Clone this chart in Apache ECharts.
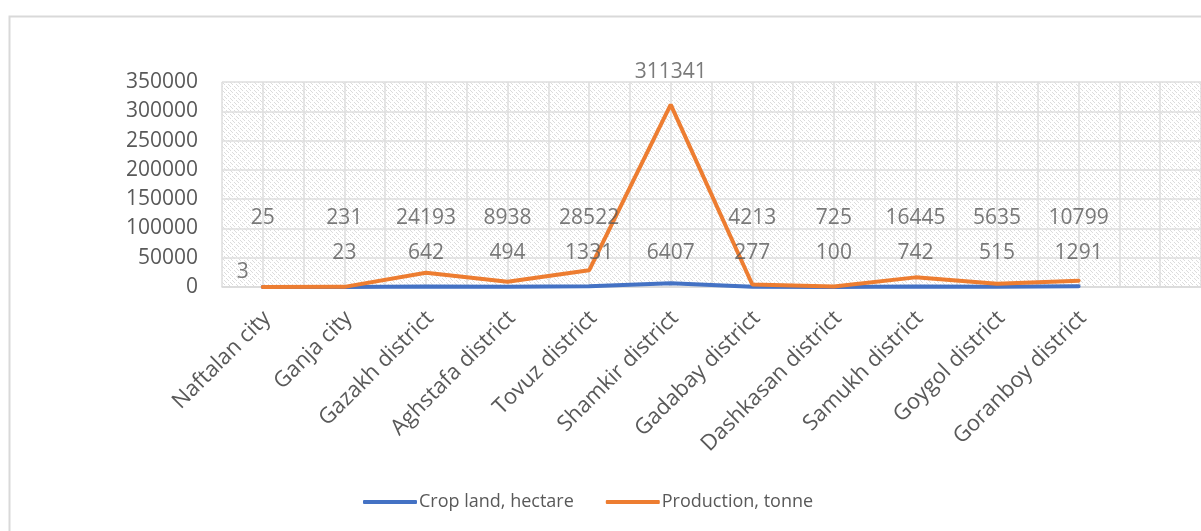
<!DOCTYPE html>
<html><head><meta charset="utf-8">
<script src="https://cdn.jsdelivr.net/npm/echarts@6/dist/echarts.min.js"></script>
<style>html,body{margin:0;padding:0;background:#fff}#c{width:1201px;height:531px}</style>
</head><body><div id="c"></div><script>
const categories = ['Naftalan city','Ganja city','Gazakh district','Aghstafa district','Tovuz district','Shamkir district','Gadabay district','Dashkasan district','Samukh district','Goygol district','Goranboy district',''];
const cropLand = [3,23,642,494,1331,6407,277,100,742,515,1291];
const production = [25,231,24193,8938,28522,311341,4213,725,16445,5635,10799];
const seriesNames = ['Crop land, hectare','Production, tonne'];
const yMin = 0, yMax = 350000, yStep = 50000;

// hatch pattern for plot background
const pc = document.createElement('canvas');
pc.width = 8; pc.height = 8;
const pctx = pc.getContext('2d');
pctx.fillStyle = '#ffffff'; pctx.fillRect(0,0,8,8);
pctx.fillStyle = '#dcdcdc';
for (let y = 0; y < 8; y++) for (let x = 0; x < 8; x++) {
  if (((x - y + 16) % 4) === 0 && ((x + y) % 8) !== 6) pctx.fillRect(x, y, 1, 1);
}

const FONT = 'Open Sans';
const TXT = '#595959';
const gridCats = [];
for (let i = 0; i < categories.length * 2; i++) gridCats.push('');

// label placement (layout only, values come from the arrays above)
const cropLabelData = cropLand.map((v, i) => i === 0
  ? { value: [i, 25000], label: { offset: [-20, 0] } }
  : [i, 57500]);
const prodLabelData = production.map((v, i) => [i, Math.max(v + 55000, 117000)]);

const chart = echarts.init(document.getElementById('c'));
chart.setOption({
  animation: false,
  graphic: [{ type: 'rect', left: 7, top: 14, shape: { width: 1300, height: 600 },
    style: { fill: 'none', stroke: '#d9d9d9', lineWidth: 2 }, silent: true }],
  grid: { left: 222, top: 82, bottom: 244, right: -9, show: true, borderWidth: 0,
    backgroundColor: { image: pc, repeat: 'repeat' } },
  legend: {
    data: seriesNames, bottom: 15, left: 358, itemWidth: 54, itemHeight: 4,
    icon: 'roundRect', itemGap: 32,
    textStyle: { fontFamily: FONT, fontSize: 18, color: TXT, padding: [0, 0, 0, -3] }
  },
  xAxis: [{
    type: 'category', data: categories, boundaryGap: true,
    axisLine: { show: true, lineStyle: { color: '#d9d9d9', width: 1.5 } },
    axisTick: { show: false }, splitLine: { show: false },
    axisLabel: { interval: 0, rotate: 45, margin: 32, padding: [0, -6, 0, 0],
      fontFamily: FONT, fontSize: 22, color: TXT }
  }, {
    type: 'category', data: gridCats, boundaryGap: true, position: 'bottom',
    axisLine: { show: false }, axisTick: { show: false }, axisLabel: { show: false, interval: 0 },
    splitLine: { show: true, interval: 0, lineStyle: { color: '#dedede', width: 1.5 } }
  }],
  yAxis: {
    type: 'value', min: yMin, max: yMax, interval: yStep,
    axisLine: { show: false }, axisTick: { show: false },
    axisLabel: { margin: 24, fontFamily: FONT, fontSize: 21, color: TXT, formatter: v => String(v) },
    splitLine: { show: true, lineStyle: { color: '#dedede', width: 1.5 } }
  },
  series: [
    { name: seriesNames[0], type: 'line', data: cropLand, showSymbol: false, symbol: 'none',
      lineStyle: { color: '#4472C4', width: 4, cap: 'round' }, itemStyle: { color: '#4472C4' }, z: 3 },
    { name: seriesNames[1], type: 'line', data: production, showSymbol: false, symbol: 'none',
      lineStyle: { color: '#ED7D31', width: 4, cap: 'round' }, itemStyle: { color: '#ED7D31' }, z: 4 },
    { type: 'scatter', data: cropLabelData, symbolSize: 0, silent: true, clip: false, z: 5,
      label: { show: true, position: 'inside', fontFamily: FONT, fontSize: 21, color: TXT,
        formatter: p => String(cropLand[p.dataIndex]) } },
    { type: 'scatter', data: prodLabelData, symbolSize: 0, silent: true, clip: false, z: 5,
      label: { show: true, position: 'inside', fontFamily: FONT, fontSize: 21, color: TXT,
        formatter: p => String(production[p.dataIndex]) } }
  ]
});
</script></body></html>
